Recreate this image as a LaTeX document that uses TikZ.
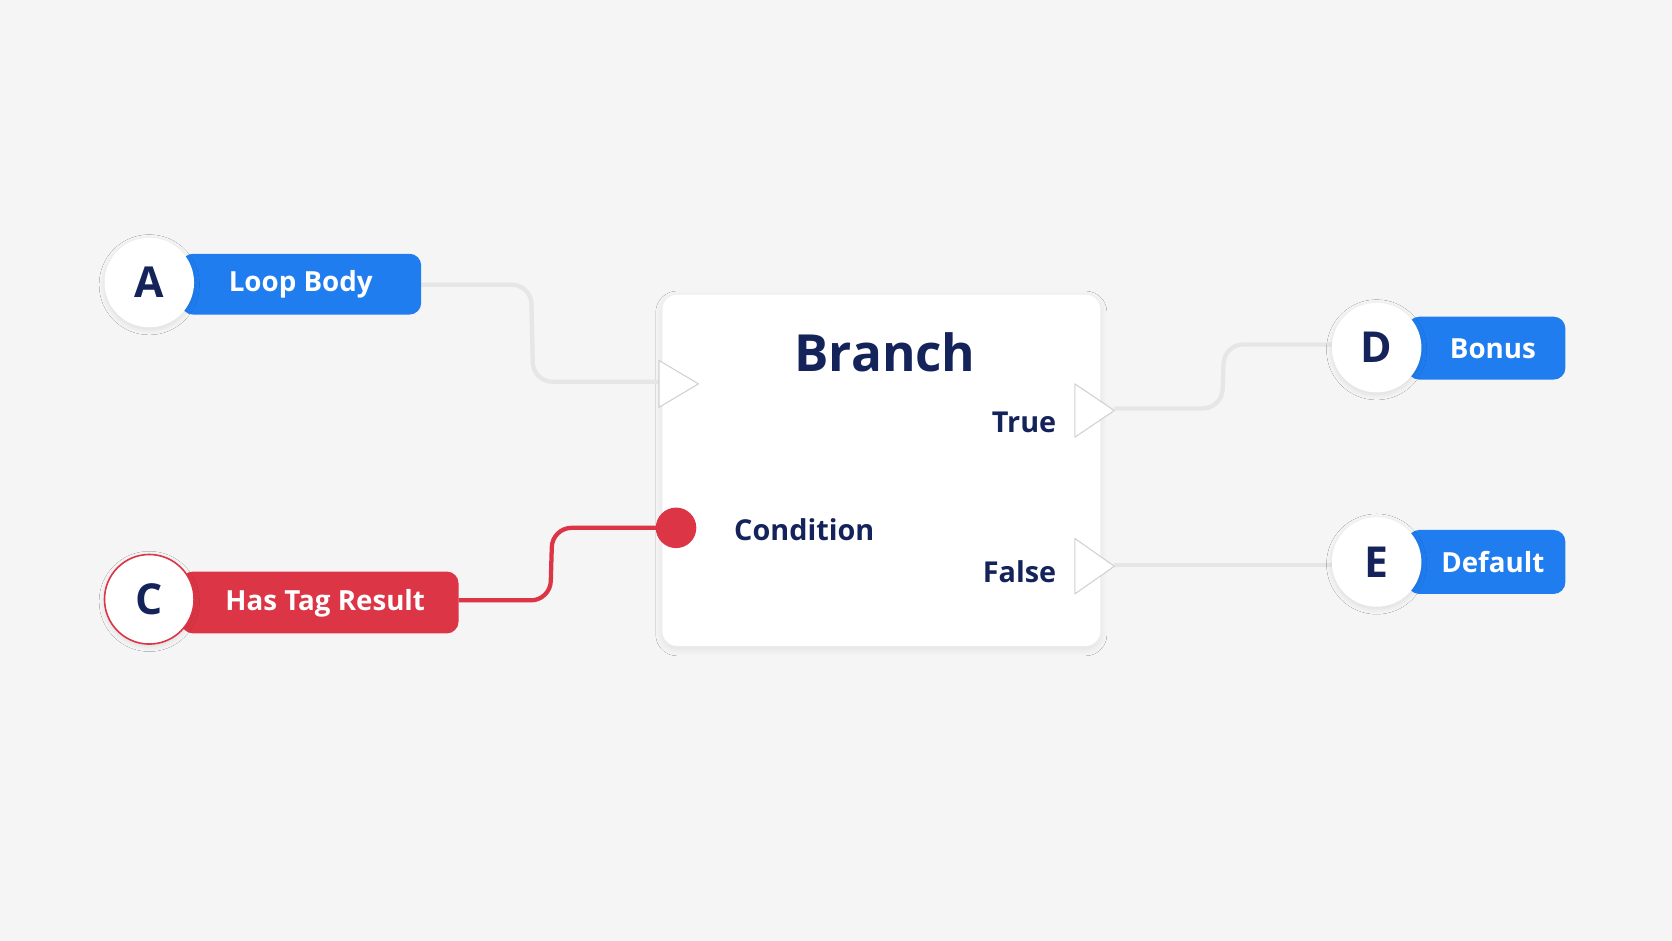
\documentclass[tikz,border=0pt]{standalone}
\usepackage{fontspec}
\setmainfont{Open Sans}
\usetikzlibrary{shadows.blur}
\definecolor{bg}{HTML}{F5F5F6}
\definecolor{navy}{HTML}{14245A}
\definecolor{pblue}{HTML}{1F7DF0}
\definecolor{pred}{HTML}{DC3545}
\definecolor{wire}{HTML}{E6E6E8}
\begin{document}
\begin{tikzpicture}[x=1pt,y=-1pt,
  circ/.style={circle,fill=white,minimum size=84pt,inner sep=0pt,blur shadow={shadow blur steps=10,shadow blur radius=5pt,shadow xshift=0pt,shadow yshift=-2pt,shadow opacity=10},font=\bfseries\fontsize{40}{40}\selectfont,text=navy},
  pill/.style={text=white,font=\bfseries\fontsize{26}{26}\selectfont,inner sep=0pt},
  wireline/.style={draw=wire,line width=4pt,rounded corners=18pt},
  tri/.style={fill=white,draw=black!18,line width=1pt,line join=round},
  lbl/.style={text=navy,font=\bfseries\fontsize{27}{27}\selectfont}]
\fill[bg] (0,0) rectangle (1568,882);
\useasboundingbox (0,0) rectangle (1568,882);
% box
\fill[white,draw=black!6,rounded corners=14pt,blur shadow={shadow blur steps=10,shadow blur radius=6pt,shadow xshift=0pt,shadow yshift=-3pt,shadow opacity=8}] (621,276) rectangle (1032,606);
% wires
\coordinate (inA) at (618,358);
\coordinate (outT) at (1045,383);
\coordinate (outF) at (1045,530);
\draw[wireline] (395,267) -- (498,267) -- (500,358) -- (inA);
\draw[wireline] (outT) -- (1146,383) -- (1148,323) -- (1255,323);
\draw[wireline] (outF) -- (1255,530);
\draw[pred,line width=4pt,rounded corners=18pt] (430,563) -- (516,563) -- (518,495) -- (630,495);
% pills
\fill[pblue,rounded corners=11pt] (170,238) rectangle (395,295);
\node[pill] (pa) at (282,267) {Loop Body};
\fill[pred,rounded corners=11pt] (170,536) rectangle (430,594);
\node[pill] (pc) at (305,566) {Has Tag Result};
\fill[pblue,rounded corners=11pt] (1320,297) rectangle (1468,356);
\node[pill] (pd) at (1400,327) {Bonus};
\fill[pblue,rounded corners=11pt] (1320,497) rectangle (1468,557);
\node[pill] (pe) at (1400,527) {Default};
% circles
\node[circ] (A) at (140,265) {A};
\node[circ,draw=pred,line width=1.5pt] (C) at (140,562) {C};
\node[circ] (D) at (1291,326) {D};
\node[circ] (E) at (1291,527) {E};
% ports
\draw[tri] (618,338) -- (655,360) -- (618,382) -- cycle;
\draw[tri] (1008,360) -- (1045,385) -- (1008,410) -- cycle;
\draw[tri] (1008,505) -- (1045,531) -- (1008,557) -- cycle;
\fill[pred] (634,495) circle (19);
% labels
\node[text=navy,font=\bfseries\fontsize{48}{48}\selectfont] (title) at (830,330) {Branch};
\node[lbl,anchor=east] (lt) at (994,396) {True};
\node[lbl,anchor=east] (lf) at (994,536) {False};
\node[lbl,anchor=west] (lc) at (685,497) {Condition};
\end{tikzpicture}
\end{document}
